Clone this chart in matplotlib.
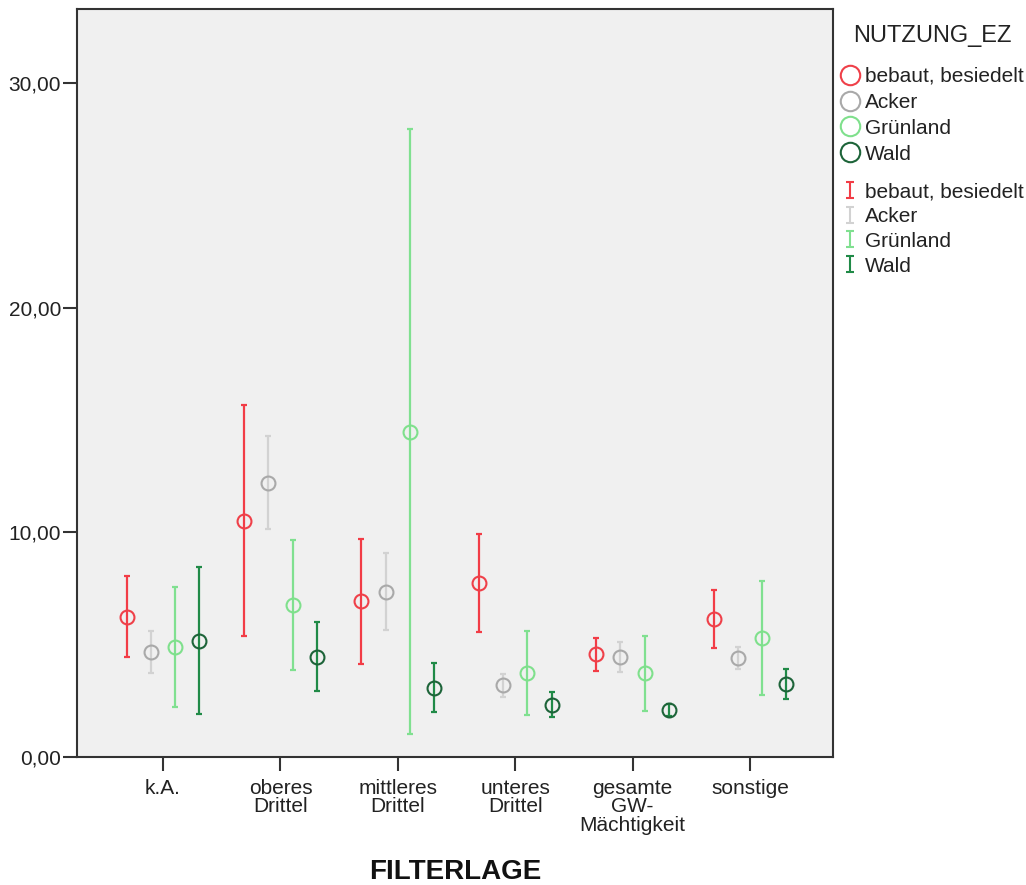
import matplotlib
matplotlib.use('Agg')
import matplotlib.pyplot as plt
import numpy as np
from matplotlib.lines import Line2D
from matplotlib.path import Path
from matplotlib.ticker import FuncFormatter

plt.rcParams['font.family'] = ['Liberation Sans', 'DejaVu Sans']

categories = ['k.A.', 'oberes\nDrittel', 'mittleres\nDrittel', 'unteres\nDrittel',
              'gesamte\nGW-\nMächtigkeit', 'sonstige']
groups = ['bebaut, besiedelt', 'Acker', 'Grünland', 'Wald']

mean_bebaut = [6.23, 10.53, 6.93, 7.74, 4.58, 6.14]
low_bebaut = [4.45, 5.37, 4.15, 5.56, 3.84, 4.86]
high_bebaut = [8.04, 15.69, 9.69, 9.94, 5.31, 7.43]

mean_acker = [4.67, 12.22, 7.37, 3.19, 4.45, 4.39]
low_acker = [3.74, 10.17, 5.67, 2.67, 3.77, 3.92]
high_acker = [5.63, 14.30, 9.09, 3.68, 5.13, 4.90]

mean_gruen = [4.88, 6.76, 14.48, 3.75, 3.75, 5.30]
low_gruen = [2.23, 3.86, 1.04, 1.88, 2.05, 2.74]
high_gruen = [7.55, 9.67, 27.96, 5.59, 5.40, 7.83]

mean_wald = [5.18, 4.46, 3.08, 2.33, 2.10, 3.25]
low_wald = [1.91, 2.96, 2.00, 1.76, 1.84, 2.58]
high_wald = [8.46, 5.99, 4.20, 2.89, 2.37, 3.94]

yticks = [0, 10, 20, 30]

marker_colors = ['#ef4049', '#a9a9a9', '#7fe08c', '#1d6439']
bar_colors = ['#f23c46', '#d2d2d2', '#80e090', '#208a47']

means = [mean_bebaut, mean_acker, mean_gruen, mean_wald]
lows = [low_bebaut, low_acker, low_gruen, low_wald]
highs = [high_bebaut, high_acker, high_gruen, high_wald]

fig = plt.figure(figsize=(10.26, 8.85), dpi=100)
ax = fig.add_axes([77/1026, 1-757/885, (833-77)/1026, (757-9)/885])
ax.set_facecolor('#f0f0f0')

x = np.arange(len(categories))
d = 0.207
offsets = [-1.5*d, -0.5*d, 0.5*d, 1.5*d]
for i in range(4):
    m = np.array(means[i]); lo = np.array(lows[i]); hi = np.array(highs[i])
    xi = x + offsets[i]
    ax.errorbar(xi, m, yerr=[m-lo, hi-m], fmt='none', ecolor=bar_colors[i],
                elinewidth=1.6, capsize=2.5, capthick=1.6, zorder=2)
    ax.plot(xi, m, linestyle='none', marker='o', markersize=10, markerfacecolor='none',
            markeredgecolor=marker_colors[i], markeredgewidth=1.5, zorder=3)

ax.set_xlim(-0.733, 5.707)
ax.set_ylim(0, 33.31)
ax.set_xticks(x)
ax.set_xticklabels(categories, fontsize=15, linespacing=0.95, color='#222222')
ax.set_yticks(yticks)
ax.yaxis.set_major_formatter(FuncFormatter(lambda v, p: f"{v:.2f}".replace('.', ',')))
ax.tick_params(axis='y', labelsize=15, length=10, width=1.5, color='#333333', pad=1.5, labelcolor='#222222')
ax.tick_params(axis='x', length=10, width=1.5, color='#333333', pad=6)
for s in ax.spines.values():
    s.set_color('#333333')
    s.set_linewidth(1.5)

fig.text(455/1026, 1-872/885, 'FILTERLAGE', ha='center', va='center',
         fontsize=20, fontweight='bold', color='#111111')

# legend
fig.text(932/1026, 1-36/885, 'NUTZUNG_EZ', ha='center', va='center',
         fontsize=17, color='#222222')
circ_handles = [Line2D([], [], linestyle='none', marker='o', markersize=14,
                       markerfacecolor='none', markeredgecolor=marker_colors[i],
                       markeredgewidth=1.5) for i in range(4)]
ipath = Path([(-0.5, -1), (0.5, -1), (0, -1), (0, 1), (-0.5, 1), (0.5, 1)],
             [Path.MOVETO, Path.LINETO, Path.MOVETO, Path.LINETO, Path.MOVETO, Path.LINETO])
i_handles = [Line2D([], [], linestyle='none', marker=ipath, markersize=12,
                    markerfacecolor='none', markeredgecolor=bar_colors[i],
                    markeredgewidth=1.5) for i in range(4)]

leg1 = fig.legend(circ_handles, groups, loc='upper left',
                  bbox_to_anchor=(842/1026, 1-67/885), frameon=False, fontsize=15,
                  handlelength=0.8, handletextpad=0.3,
                  labelspacing=0.33, borderpad=0, borderaxespad=0)
for t in leg1.get_texts():
    t.set_color('#222222')
leg2 = fig.legend(i_handles, groups, loc='upper left',
                  bbox_to_anchor=(842/1026, 1-182/885), frameon=False, fontsize=15,
                  handlelength=0.8, handletextpad=0.3,
                  labelspacing=0.28, borderpad=0, borderaxespad=0)
for t in leg2.get_texts():
    t.set_color('#222222')

fig.savefig('out.png', dpi=100)
